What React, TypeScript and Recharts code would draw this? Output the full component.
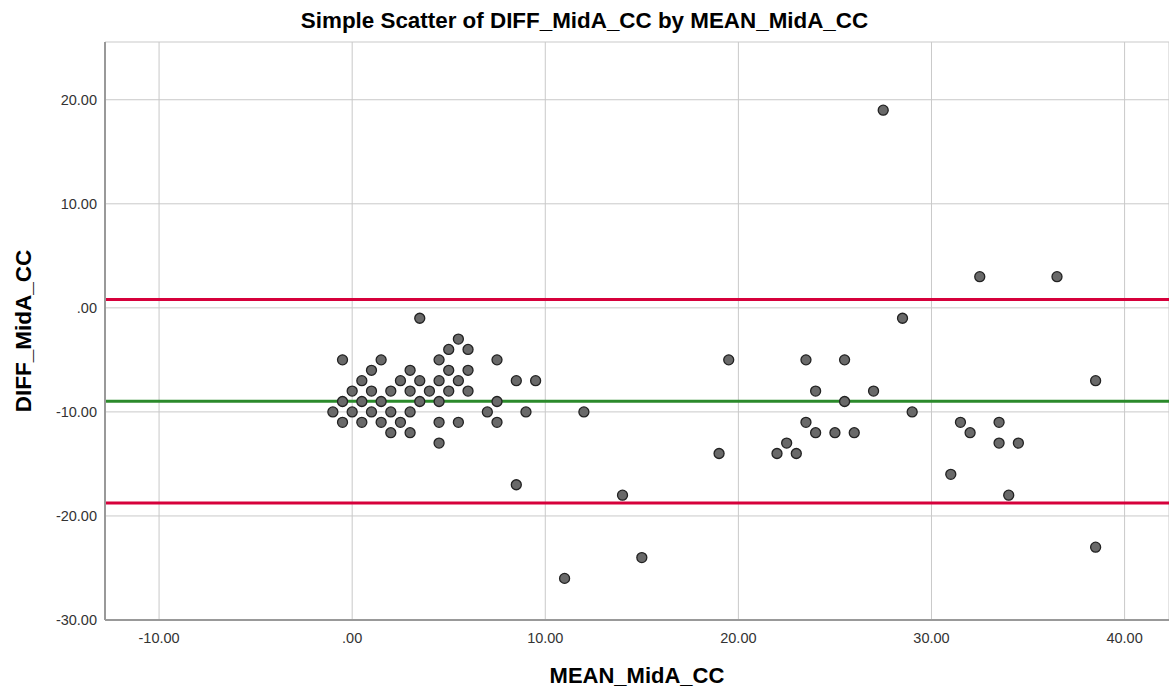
import React from "react";
import {
  ScatterChart,
  Scatter,
  XAxis,
  YAxis,
  CartesianGrid,
  ReferenceLine,
} from "recharts";

// MEAN_MidA_CC (x) and DIFF_MidA_CC (y), paired by index
const meanValues = [
  3.5, 5.5, 5, 6, -0.5, 1.5, 4.5, 7.5, 1, 3, 5, 6, 0.5, 2.5, 3.5, 4.5, 5.5, 8.5,
  9.5, 0, 1, 2, 3, 4, 5, 6, -0.5, 0.5, 1.5, 3.5, 4.5, 7.5, -1, 0, 1, 2, 3, 7, 9,
  -0.5, 0.5, 1.5, 2.5, 4.5, 5.5, 7.5, 2, 3, 4.5, 8.5,
  11, 12, 14, 15, 19, 19.5, 22, 22.5, 23, 23.5, 23.5, 24, 24, 25, 25.5, 25.5,
  26, 27, 27.5, 28.5, 29, 31, 31.5, 32, 32.5, 33.5, 33.5, 34, 34.5, 36.5, 38.5,
  38.5,
];
const diffValues = [
  -1, -3, -4, -4, -5, -5, -5, -5, -6, -6, -6, -6, -7, -7, -7, -7, -7, -7, -7,
  -8, -8, -8, -8, -8, -8, -8, -9, -9, -9, -9, -9, -9, -10, -10, -10, -10, -10,
  -10, -10, -11, -11, -11, -11, -11, -11, -11, -12, -12, -13, -17,
  -26, -10, -18, -24, -14, -5, -14, -13, -14, -5, -11, -8, -12, -12, -5, -9,
  -12, -8, 19, -1, -10, -16, -11, -12, 3, -11, -13, -18, -13, 3, -7, -23,
];

const xTicks = [-10, 0, 10, 20, 30, 40];
const yTicks = [-30, -20, -10, 0, 10, 20];

// mean difference and limits of agreement
const meanDiff = -8.97;
const upperLimit = 0.81;
const lowerLimit = -18.75;

const points = meanValues.map((m, i) => ({ mean: m, diff: diffValues[i] }));

const fmt = (v: number) => v.toFixed(2).replace(/^(-?)0\./, "$1.");

const FONT = '"Liberation Sans", Arial, sans-serif';

const Dot = (props: any) => {
  const { cx, cy } = props;
  return <circle cx={cx} cy={cy} r={5} fill="#696969" stroke="#222" strokeWidth={1.3} />;
};

export default function App() {
  return (
    <div
      style={{
        position: "absolute",
        left: 0,
        top: 0,
        width: 1169,
        height: 688,
        background: "#fff",
        fontFamily: FONT,
        overflow: "hidden",
      }}
    >
      <div
        style={{
          position: "absolute",
          top: 8,
          left: 0,
          width: 1169,
          textAlign: "center",
          fontWeight: "bold",
          fontSize: 22.4,
          color: "#000",
        }}
      >
        Simple Scatter of DIFF_MidA_CC by MEAN_MidA_CC
      </div>
      <ScatterChart
        width={1169}
        height={688}
        margin={{ top: 42, right: 0, bottom: 0, left: 0 }}
      >
        <CartesianGrid stroke="#c9c9c9" strokeWidth={1} />
        <XAxis
          type="number"
          dataKey="mean"
          domain={[-12.8, 42.3]}
          ticks={xTicks}
          tickFormatter={fmt}
          allowDataOverflow
          height={68}
          tickSize={0}
          tickMargin={13}
          axisLine={{ stroke: "#999", strokeWidth: 2 }}
          tick={{ fill: "#333", fontSize: 14.5, fontFamily: FONT }}
        />
        <YAxis
          type="number"
          dataKey="diff"
          domain={[-30, 25.55]}
          ticks={yTicks}
          tickFormatter={fmt}
          allowDataOverflow
          width={105}
          tickSize={0}
          tickMargin={8}
          axisLine={{ stroke: "#999", strokeWidth: 2 }}
          tick={{ fill: "#333", fontSize: 14.5, fontFamily: FONT }}
        />
        <Scatter data={points} shape={<Dot />} isAnimationActive={false} />
        <ReferenceLine y={upperLimit} stroke="#d6003b" strokeWidth={3} />
        <ReferenceLine y={meanDiff} stroke="#2b8a2b" strokeWidth={3} />
        <ReferenceLine y={lowerLimit} stroke="#d6003b" strokeWidth={3} />
      </ScatterChart>
      <div
        style={{
          position: "absolute",
          top: 663,
          left: 105,
          width: 1064,
          textAlign: "center",
          fontWeight: "bold",
          fontSize: 22,
          color: "#000",
        }}
      >
        MEAN_MidA_CC
      </div>
      <div
        style={{
          position: "absolute",
          left: 24,
          top: 331,
          transform: "translate(-50%, -50%) rotate(-90deg)",
          whiteSpace: "nowrap",
          fontWeight: "bold",
          fontSize: 22.5,
          color: "#000",
        }}
      >
        DIFF_MidA_CC
      </div>
    </div>
  );
}
